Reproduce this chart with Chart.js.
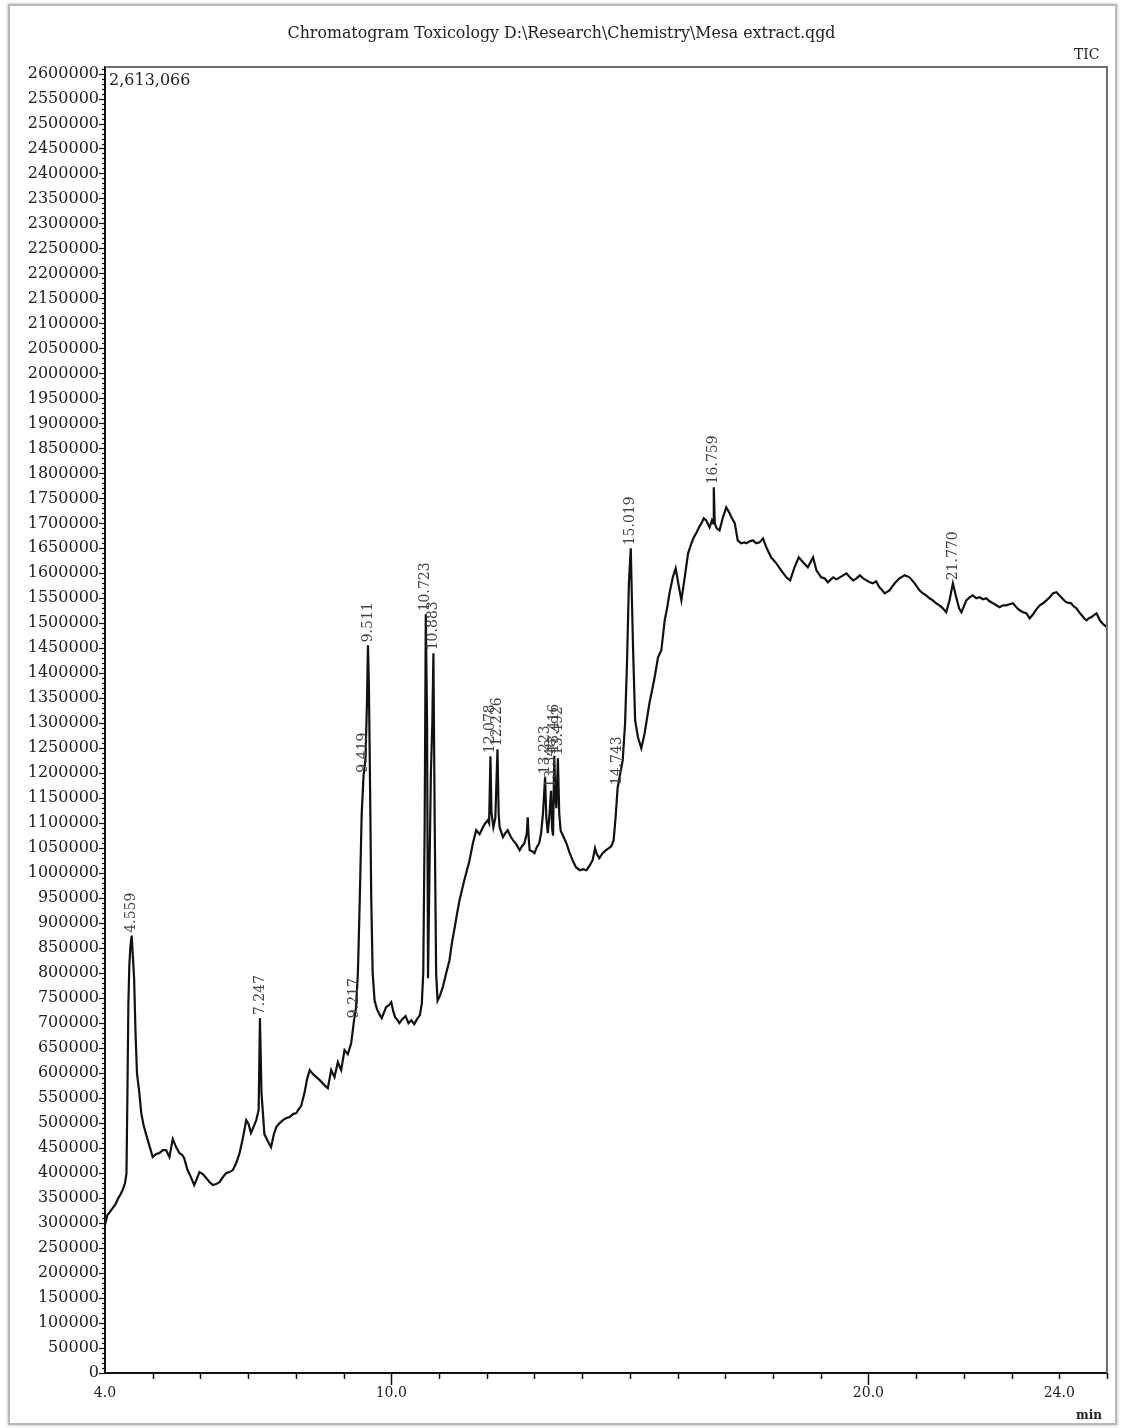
<!DOCTYPE html>
<html lang="en">
<head>
<meta charset="UTF-8">
<title>Chromatogram Toxicology - Mesa extract</title>
<script src="https://cdn.jsdelivr.net/npm/chart.js"></script>
<style>
  body { margin: 0; background: #fff; }
  .page { position: relative; width: 1123px; height: 1428px; overflow: hidden; }
  .frame { position: absolute; left: 8px; top: 4px; width: 1105px; height: 1417px; border: 2px solid #b8b8b8; box-shadow: 0 0 3px #aaa; }
  canvas { position: absolute; left: 0; top: 0; }
  .txt { position: absolute; font-family: 'DejaVu Serif', serif; color: #222; white-space: nowrap; }
</style>
</head>
<body>
<div class="page">
  <div class="frame"></div>
  <canvas id="tic" width="1123" height="1428"></canvas>
  <div class="txt" style="left:0; width:1123px; text-align:center; top:23px; font-size:15.8px;">Chromatogram Toxicology D:\Research\Chemistry\Mesa extract.qgd</div>
  <div class="txt" style="left:1074px; top:46px; font-size:14px;">TIC</div>
  <div class="txt" style="left:109px; top:70px; font-size:16px;">2,613,066</div>
  <div class="txt" style="left:1076px; top:1408px; font-size:12px; font-weight:bold;">min</div>
</div>

<script>
// retention time (min) and total ion current
const times = [
  4.00, 4.05, 4.10, 4.16, 4.22, 4.28, 4.33, 4.37, 4.42, 4.45, 4.47, 4.49, 4.51, 4.53, 4.559, 4.58, 4.61, 4.64, 4.67, 4.72,
  4.76, 4.81, 4.86, 4.93, 5.00, 5.07, 5.14, 5.21, 5.28, 5.35, 5.42, 5.49, 5.56, 5.62, 5.66, 5.73, 5.80, 5.87, 5.93, 5.98,
  6.05, 6.12, 6.19, 6.26, 6.33, 6.40, 6.47, 6.54, 6.61, 6.68, 6.75, 6.82, 6.89, 6.96, 7.01, 7.06, 7.12, 7.17, 7.22, 7.247,
  7.28, 7.31, 7.34, 7.41, 7.48, 7.54, 7.59, 7.66, 7.73, 7.80, 7.87, 7.94, 8.01, 8.06, 8.11, 8.18, 8.24, 8.29, 8.36, 8.43,
  8.50, 8.56, 8.62, 8.67, 8.74, 8.81, 8.88, 8.95, 9.02, 9.09, 9.16, 9.217, 9.26, 9.30, 9.34, 9.38, 9.419, 9.46, 9.49, 9.511,
  9.53, 9.55, 9.58, 9.61, 9.65, 9.70, 9.76, 9.80, 9.85, 9.89, 9.95, 10.00, 10.04, 10.08, 10.13, 10.17, 10.23, 10.30, 10.36, 10.42,
  10.48, 10.54, 10.60, 10.64, 10.67, 10.70, 10.723, 10.75, 10.77, 10.80, 10.83, 10.86, 10.883, 10.91, 10.94, 10.97, 11.02, 11.08, 11.15, 11.22,
  11.27, 11.33, 11.38, 11.43, 11.48, 11.53, 11.58, 11.64, 11.71, 11.78, 11.85, 11.92, 11.97, 12.02, 12.05, 12.078, 12.10, 12.14, 12.18, 12.226,
  12.25, 12.27, 12.34, 12.39, 12.44, 12.50, 12.55, 12.62, 12.69, 12.74, 12.79, 12.84, 12.86, 12.88, 12.90, 12.95, 13.00, 13.05, 13.10, 13.14,
  13.18, 13.223, 13.25, 13.28, 13.31, 13.348, 13.37, 13.39, 13.416, 13.44, 13.46, 13.492, 13.52, 13.55, 13.60, 13.67, 13.74, 13.80, 13.87, 13.95,
  14.02, 14.09, 14.15, 14.22, 14.27, 14.30, 14.36, 14.43, 14.50, 14.56, 14.61, 14.66, 14.70, 14.743, 14.78, 14.85, 14.90, 14.94, 14.98, 15.019,
  15.04, 15.07, 15.11, 15.17, 15.24, 15.31, 15.36, 15.41, 15.47, 15.52, 15.59, 15.66, 15.73, 15.78, 15.83, 15.90, 15.96, 16.03, 16.08, 16.15,
  16.22, 16.29, 16.34, 16.39, 16.45, 16.50, 16.55, 16.60, 16.67, 16.72, 16.745, 16.759, 16.78, 16.82, 16.88, 16.95, 17.02, 17.08, 17.13, 17.20,
  17.26, 17.33, 17.40, 17.44, 17.51, 17.58, 17.65, 17.72, 17.79, 17.86, 17.96, 18.07, 18.17, 18.28, 18.36, 18.45, 18.54, 18.63, 18.73, 18.84,
  18.91, 19.01, 19.08, 19.15, 19.26, 19.33, 19.40, 19.47, 19.54, 19.61, 19.68, 19.75, 19.82, 19.89, 19.96, 20.03, 20.09, 20.16, 20.23, 20.29,
  20.34, 20.44, 20.55, 20.65, 20.76, 20.86, 20.97, 21.07, 21.14, 21.21, 21.28, 21.35, 21.42, 21.49, 21.56, 21.63, 21.70, 21.770, 21.84, 21.90,
  21.95, 22.05, 22.12, 22.19, 22.26, 22.33, 22.40, 22.47, 22.54, 22.61, 22.68, 22.75, 22.82, 22.89, 22.96, 23.03, 23.10, 23.17, 23.24, 23.31,
  23.38, 23.45, 23.52, 23.59, 23.66, 23.73, 23.80, 23.87, 23.94, 24.04, 24.10, 24.15, 24.25, 24.30, 24.36, 24.42, 24.47, 24.52, 24.57, 24.62,
  24.67, 24.72, 24.78, 24.85, 24.90, 24.95, 25.00
];
const intensity = [
  296000, 316000, 322000, 330000, 338000, 350000, 358000, 366000, 380000, 400000, 560000, 740000, 815000, 850000, 875000, 840000, 790000, 680000, 600000, 560000,
  520000, 495000, 478000, 455000, 432000, 438000, 440000, 446000, 446000, 432000, 468000, 452000, 440000, 436000, 430000, 406000, 392000, 376000, 390000, 402000,
  398000, 390000, 382000, 376000, 378000, 382000, 392000, 400000, 402000, 406000, 420000, 440000, 470000, 506000, 498000, 480000, 494000, 506000, 526000, 710000,
  560000, 520000, 478000, 464000, 452000, 478000, 492000, 500000, 506000, 510000, 512000, 518000, 520000, 528000, 534000, 560000, 590000, 606000, 598000, 592000,
  586000, 580000, 574000, 570000, 606000, 592000, 622000, 606000, 646000, 638000, 660000, 704000, 730000, 800000, 950000, 1120000, 1195000, 1230000, 1340000, 1456000,
  1380000, 1220000, 950000, 800000, 745000, 728000, 716000, 710000, 722000, 732000, 736000, 742000, 724000, 712000, 706000, 700000, 708000, 714000, 700000, 706000,
  698000, 708000, 716000, 740000, 800000, 1100000, 1518000, 1300000, 790000, 1000000, 1200000, 1300000, 1440000, 1100000, 800000, 745000, 755000, 772000, 800000, 826000,
  860000, 892000, 920000, 946000, 966000, 986000, 1004000, 1026000, 1060000, 1086000, 1078000, 1092000, 1100000, 1106000, 1100000, 1234000, 1120000, 1092000, 1110000, 1248000,
  1120000, 1092000, 1072000, 1080000, 1086000, 1074000, 1066000, 1058000, 1046000, 1054000, 1060000, 1080000, 1112000, 1070000, 1046000, 1044000, 1040000, 1052000, 1060000, 1080000,
  1120000, 1192000, 1110000, 1080000, 1110000, 1165000, 1090000, 1075000, 1235000, 1150000, 1130000, 1230000, 1120000, 1085000, 1075000, 1060000, 1040000, 1026000, 1012000, 1006000,
  1008000, 1006000, 1014000, 1026000, 1050000, 1040000, 1030000, 1040000, 1046000, 1050000, 1054000, 1066000, 1110000, 1170000, 1190000, 1226000, 1300000, 1420000, 1580000, 1650000,
  1560000, 1440000, 1306000, 1272000, 1250000, 1280000, 1310000, 1340000, 1368000, 1392000, 1432000, 1446000, 1506000, 1530000, 1560000, 1592000, 1610000, 1572000, 1546000, 1592000,
  1640000, 1660000, 1672000, 1680000, 1692000, 1700000, 1710000, 1706000, 1692000, 1706000, 1700000, 1772000, 1700000, 1690000, 1686000, 1712000, 1732000, 1722000, 1712000, 1700000,
  1666000, 1660000, 1662000, 1660000, 1664000, 1666000, 1660000, 1662000, 1670000, 1652000, 1632000, 1620000, 1606000, 1592000, 1586000, 1612000, 1632000, 1622000, 1612000, 1632000,
  1606000, 1592000, 1590000, 1582000, 1592000, 1588000, 1592000, 1596000, 1600000, 1592000, 1586000, 1590000, 1596000, 1590000, 1586000, 1582000, 1580000, 1584000, 1572000, 1566000,
  1560000, 1566000, 1580000, 1590000, 1596000, 1592000, 1580000, 1566000, 1560000, 1556000, 1550000, 1546000, 1540000, 1536000, 1530000, 1522000, 1546000, 1580000, 1552000, 1530000,
  1522000, 1546000, 1552000, 1556000, 1550000, 1552000, 1548000, 1550000, 1544000, 1540000, 1536000, 1532000, 1536000, 1536000, 1538000, 1540000, 1532000, 1526000, 1522000, 1520000,
  1510000, 1518000, 1528000, 1536000, 1540000, 1546000, 1552000, 1560000, 1562000, 1552000, 1546000, 1542000, 1540000, 1534000, 1530000, 1522000, 1516000, 1510000, 1506000, 1510000,
  1512000, 1516000, 1520000, 1506000, 1500000, 1496000, 1492000
];

// annotated retention times
const peakTimes = [4.559, 7.247, 9.217, 9.419, 9.511, 10.723, 10.883, 12.078, 12.226, 13.223, 13.348, 13.416, 13.492, 14.743, 15.019, 16.759, 21.770];
const peakLabels = ['4.559', '7.247', '9.217', '9.419', '9.511', '10.723', '10.883', '12.078', '12.226', '13.223', '13.348', '13.416', '13.492', '14.743', '15.019', '16.759', '21.770'];

const xLabelled = [4, 10, 20, 24];
const xMajor = [10, 20];
const yMax = 2613066;
const yStep = 50000;

const serif = "'DejaVu Serif', serif";

const frameAndMarks = {
  id: 'frameAndMarks',
  afterDraw(chart) {
    const { ctx, chartArea: a, scales: { x, y } } = chart;
    ctx.save();
    // top and right frame
    ctx.strokeStyle = '#6f6f6f';
    ctx.lineWidth = 2;
    ctx.beginPath();
    ctx.moveTo(a.left, a.top);
    ctx.lineTo(a.right, a.top);
    ctx.lineTo(a.right, a.bottom);
    ctx.stroke();

    // y ticks: minor every 10000, longer every 50000
    ctx.strokeStyle = '#111';
    ctx.lineWidth = 1.2;
    for (let i = 0; i * 10000 <= yMax; i++) {
      const py = Math.round(y.getPixelForValue(i * 10000)) + 0.5;
      const len = i % 5 === 0 ? 6 : 3;
      ctx.beginPath();
      ctx.moveTo(a.left - len, py);
      ctx.lineTo(a.left, py);
      ctx.stroke();
    }
    // x ticks every minute
    ctx.lineWidth = 1.5;
    for (let t = 5; t <= 25; t++) {
      const px = Math.round(x.getPixelForValue(t)) + 0.5;
      const len = xMajor.includes(t) ? 12 : 6;
      ctx.beginPath();
      ctx.moveTo(px, a.bottom);
      ctx.lineTo(px, a.bottom + len);
      ctx.stroke();
    }

    // peak labels, rotated, sitting on top of each peak
    ctx.fillStyle = '#444';
    ctx.font = '14px ' + serif;
    ctx.textAlign = 'left';
    ctx.textBaseline = 'middle';
    peakTimes.forEach((pt, k) => {
      let top = 0;
      times.forEach((t, i) => { if (Math.abs(t - pt) <= 0.012 && intensity[i] > top) top = intensity[i]; });
      const px = x.getPixelForValue(pt);
      const py = y.getPixelForValue(top) - 3;
      ctx.save();
      ctx.translate(px, py);
      ctx.rotate(-Math.PI / 2);
      ctx.fillText(peakLabels[k], 0, 0);
      ctx.restore();
    });
    ctx.restore();
  }
};

new Chart(document.getElementById('tic'), {
  type: 'line',
  data: {
    datasets: [{
      label: 'TIC',
      data: times.map((t, i) => ({ x: t, y: intensity[i] })),
      borderColor: '#111',
      borderWidth: 2.2,
      pointRadius: 0,
      tension: 0,
      fill: false
    }]
  },
  options: {
    responsive: false,
    animation: false,
    layout: { padding: { left: 0, top: 67, right: 16, bottom: 0 } },
    plugins: { legend: { display: false }, tooltip: { enabled: false } },
    scales: {
      x: {
        type: 'linear',
        min: 4,
        max: 25,
        afterFit(scale) { scale.height = 55; },
        afterBuildTicks(scale) { scale.ticks = xLabelled.map(v => ({ value: v })); },
        grid: { display: false, drawTicks: false },
        border: { display: true, color: '#111', width: 2 },
        ticks: {
          autoSkip: false,
          maxRotation: 0,
          padding: 12,
          color: '#222',
          font: { family: serif, size: 14 },
          callback: v => v.toFixed(1)
        }
      },
      y: {
        min: 0,
        max: yMax,
        afterFit(scale) { scale.width = 105; },
        afterBuildTicks(scale) {
          const list = [];
          for (let i = 0; i * yStep <= yMax; i++) list.push({ value: i * yStep });
          scale.ticks = list;
        },
        grid: { display: false, drawTicks: false },
        border: { display: true, color: '#111', width: 2 },
        ticks: {
          autoSkip: false,
          padding: 6,
          color: '#222',
          font: { family: serif, size: 16 },
          callback: v => String(v)
        }
      }
    }
  },
  plugins: [frameAndMarks]
});
</script>
</body>
</html>
